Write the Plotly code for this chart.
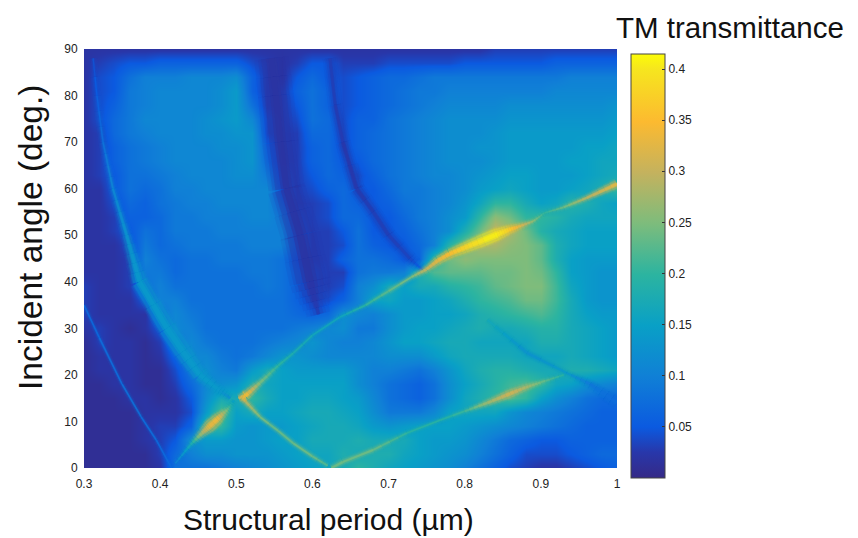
import math
import plotly.graph_objects as go
from plotly.colors import sample_colorscale

periods = [round(0.30 + 0.02 * i, 2) for i in range(36)]
angles = list(range(90, -1, -3))

# background transmittance in hundredths, rows from 90 deg down to 0 deg
t90 = [2,2,2,2,2,2, 2,2,2,2,2,2, 2,2,2,2,2,2, 2,2,2,2,2,2, 2,2,2,3,3,3, 3,3,3,3,3,3]
t87 = [2,3,4,5,5,6, 6,6,6,6,6,4, 3,2,3,5,5,3, 3,3,4,4,4,4, 4,5,5,5,5,5, 5,6,6,6,6,6]
t84 = [2,4,5,8,10,10, 10,11,11,11,12,6, 3,2,5,7,5,4, 5,6,7,7,8,9, 9,9,9,9,9,9, 9,9,10,10,10,10]
t81 = [2,4,5,9,10,11, 11,11,11,12,14,6, 3,3,6,8,6,4, 5,6,7,8,9,9, 10,10,10,10,10,10, 10,11,11,11,11,11]
t78 = [2,4,6,9,10,11, 11,11,11,12,14,8, 3,3,5,8,6,4, 5,6,7,8,9,10, 11,11,11,11,12,12, 12,12,12,12,12,13]
t75 = [2,4,7,9,11,11, 11,11,12,13,14,11, 4,3,4,8,7,4, 6,6,8,9,10,11, 12,12,12,12,13,13, 13,13,13,13,13,14]
t72 = [2,3,7,9,10,11, 11,11,12,12,13,13, 4,3,3,7,7,4, 6,7,8,9,10,11, 12,12,12,13,14,14, 14,14,14,14,14,15]
t69 = [2,3,6,8,9,10, 11,11,11,12,12,13, 6,3,3,6,7,4, 6,7,8,9,10,11, 12,12,13,13,14,14, 14,14,14,15,15,16]
t66 = [2,3,6,8,9,10, 11,11,11,11,12,13, 7,3,3,6,7,5, 5,7,8,9,10,11, 12,12,12,13,14,14, 14,14,15,15,16,16]
t63 = [2,3,5,8,8,9, 10,11,11,11,12,12, 9,4,3,5,7,6, 4,6,8,9,10,11, 11,12,13,14,15,15, 14,14,14,15,16,17]
t60 = [2,2,5,8,7,8, 10,10,11,11,11,11, 11,5,3,4,6,7, 5,5,7,9,9,10, 11,12,14,15,16,15, 14,14,15,16,18,20]
t57 = [2,2,4,7,6,8, 9,10,10,11,11,11, 11,7,3,3,4,7, 6,5,6,8,9,10, 11,13,16,20,20,17, 15,16,19,18,16,15]
t54 = [2,2,3,6,6,7, 9,9,10,10,10,11, 11,9,4,3,4,7, 7,5,5,7,9,10, 12,14,20,26,24,20, 20,19,17,16,16,16]
t51 = [2,2,3,5,8,7, 9,9,9,10,10,10, 10,10,5,3,3,5, 8,5,5,6,8,10, 12,18,24,30,28,24, 19,17,16,15,15,15]
t48 = [2,2,2,4,9,7, 8,9,9,9,9,10, 10,10,6,3,3,4, 8,6,5,5,7,10, 19,25,28,28,26,25, 23,18,16,15,15,15]
t45 = [2,2,2,3,10,8, 7,8,8,9,9,9, 9,8,5,3,3,6, 8,8,7,5,6,20, 24,26,25,25,25,25, 23,18,15,14,14,14]
t42 = [2,2,2,3,9,9, 7,8,8,8,8,9, 9,8,6,4,3,3, 8,9,9,10,18,22, 23,23,23,24,24,25, 24,20,15,14,13,13]
t39 = [3,2,2,3,8,10, 8,8,8,8,8,8, 9,8,6,4,3,4, 10,12,17,15,17,17, 19,20,21,23,24,25, 25,21,16,14,13,13]
t36 = [3,2,2,2,5,10, 10,8,8,8,8,8, 8,8,6,4,4,6, 10,15,16,14,14,15, 16,18,20,21,22,24, 24,21,17,14,13,13]
t33 = [3,2,2,2,2,8, 11,9,8,8,8,8, 8,8,7,6,7,12, 11,10,12,14,14,15, 15,16,18,19,20,21, 22,20,17,15,14,14]
t30 = [2,3,2,1,2,5, 11,10,8,8,8,8, 8,8,9,10,11,12, 9,9,12,14,15,15, 16,17,18,17,17,18, 19,19,17,16,15,14]
t27 = [1,3,2,2,1,3, 8,11,9,8,8,8, 9,10,11,13,11,10, 10,11,13,15,15,16, 17,17,16,16,16,16, 18,18,17,16,15,14]
t24 = [1,2,2,2,1,2, 6,11,11,9,8,9, 11,13,13,12,11,11, 11,11,12,12,12,14, 16,17,17,17,17,16, 16,16,17,16,15,14]
t21 = [1,2,2,2,1,1, 4,9,12,10,9,14, 17,15,14,14,14,14, 12,10,10,9,8,10, 13,16,18,19,19,18, 17,17,18,18,17,16]
t18 = [1,1,2,2,1,1, 3,7,11,12,13,18, 16,15,15,15,15,15, 12,10,8,7,6,8, 12,15,17,19,21,22, 20,16,15,12,11,10]
t15 = [1,1,1,2,2,1, 2,5,12,17,17,20, 17,15,15,16,16,15, 14,11,8,7,6,8, 12,16,18,20,22,20, 15,12,10,8,7,7]
t12 = [1,1,1,1,2,2, 2,4,14,22,15,17, 15,15,16,17,17,16, 15,12,9,9,9,11, 15,16,16,16,13,11, 10,9,8,7,6,6]
t09 = [1,1,1,1,2,3, 3,6,20,20,14,13, 14,14,15,16,17,17, 16,14,13,14,15,15, 15,14,13,12,11,10, 9,8,7,6,6,6]
t06 = [1,1,1,1,2,3, 5,12,14,14,13,13, 14,15,15,17,17,17, 18,17,17,17,15,14, 14,13,11,9,7,6, 5,5,6,6,6,6]
t03 = [1,1,1,1,1,3, 7,10,12,12,13,13, 13,14,15,16,16,18, 17,18,18,16,15,14, 13,12,10,8,6,4, 4,4,5,6,7,7]
t00 = [1,1,1,1,1,2, 8,8,8,9,10,11, 12,13,14,15,16,17, 20,18,16,15,14,13, 12,10,8,6,4,3, 2,2,3,4,5,6]

rows = [t90,t87,t84,t81,t78,t75,t72,t69,t66,t63,t60,t57,t54,t51,t48,t45,
        t42,t39,t36,t33,t30,t27,t24,t21,t18,t15,t12,t09,t06,t03,t00]
z = [[v / 100 for v in r] for r in rows[::-1]]
y = angles[::-1]

# thin features: period, angle, transmittance, width in px
band2_p = [.546,.552,.558,.566,.584,.597,.608]
band2_a = [88,80,70,60,50,40,33]
band2_t = [.02,.02,.02,.02,.02,.02,.03]
band2_w = [16,18,18,19,22,24,4]

band3_p = [.623,.63,.64,.658,.68,.70,.728,.745]
band3_a = [88,78,70,60,55,50,45,42.5]
band3_t = [.03,.03,.025,.025,.03,.03,.035,.06]
band3_w = [5,6,6,8,7,7,5,2]

upper_p = [.312,.317,.325,.338,.356,.373,.409,.43,.452,.475,.492]
upper_a = [88,80,70,60,50,40,30,25,20,17,15]
upper_t = [.04,.055,.08,.11,.13,.14,.14,.14,.14,.14,.12]
upper_w = [1,2,2,3,6,12,15,15,11,6,2]

thin_p = [.30,.32,.35,.375,.395,.415]
thin_a = [35,28,18,11,6,0]
thin_t = [.07,.07,.08,.08,.07,.07]
thin_w = [1.5,1.5,1.5,1.5,1.5,1.5]

rise1_p = [.42,.44,.455,.465,.475,.488,.497]
rise1_a = [1,5,7.5,9,10.5,12.5,14.5]
rise1_t = [.10,.17,.28,.33,.34,.24,.14]
rise1_w = [1,3,7,11,10,4,1]

rise2_p = [.503,.512,.531,.555,.575,.60,.636,.67,.70,.73,.75,.765,.78,.795,.81,.825,.84,.855,.87,.89,.905,.93,.96,1.0]
rise2_a = [15,15.5,18.3,22,24.7,28.5,32.4,35,38,41,42.7,44.6,46,47,48,49,50,51,51.8,53,54.8,56,58,61]
rise2_t = [.30,.35,.25,.20,.18,.17,.16,.20,.23,.25,.30,.33,.35,.37,.39,.40,.41,.38,.33,.26,.20,.24,.29,.33]
rise2_w = [4,8,5,3,2.5,2,2,2.5,3,3,5,7,8,9,10,11,11,8,5,2.5,1,2.5,4,7]

fall_p = [.508,.531,.555,.575,.60,.62]
fall_a = [15,11,8,5.3,2.5,.5]
fall_t = [.30,.25,.23,.24,.24,.22]
fall_w = [5,3,3,3,3,2]

low_p = [.625,.64,.68,.724,.768,.80,.83,.86,.88,.90,.93]
low_a = [0,1.3,3.9,7.5,10.3,12.2,14,16,17.3,18.4,20]
low_t = [.24,.24,.24,.20,.19,.21,.27,.31,.28,.24,.19]
low_w = [4,4,3,2,2,2.5,5,7,5,3,1]

gap_p = [.83,.882,.934,.965,1.0]
gap_a = [31.8,24.7,20.4,18,14]
gap_t = [.17,.125,.14,.09,.07]
gap_w = [2,4,2,5,9]

parula = [
    [0.00, "rgb(53,42,135)"], [0.06, "rgb(40,55,170)"], [0.12, "rgb(11,90,224)"],
    [0.24, "rgb(16,128,214)"], [0.36, "rgb(9,160,198)"], [0.48, "rgb(44,180,160)"],
    [0.60, "rgb(125,188,124)"], [0.72, "rgb(196,178,94)"], [0.84, "rgb(252,186,48)"],
    [0.965, "rgb(246,230,30)"], [1.00, "rgb(252,252,8)"],
]
ZMAX = 0.4147
FONT = "Liberation Sans, Arial, sans-serif"
PAGE_PAD = 8  # the page body keeps an 8 px margin round the figure
W, H = 858 - PAGE_PAD, 538 - PAGE_PAD
L, R, T, B = 84 - PAGE_PAD, 617 - PAGE_PAD, 49 - PAGE_PAD, 468 - PAGE_PAD
PW, PH = R - L, B - T

def paper_x(px):
    return (px - PAGE_PAD - L) / PW

def paper_y(py):
    return (B - (py - PAGE_PAD)) / PH

fig = go.Figure(go.Heatmap(
    x=periods, y=y, z=z, zsmooth="best", zmin=0, zmax=ZMAX, colorscale=parula, hoverinfo="skip",
    colorbar=dict(
        x=paper_x(631), xanchor="left", xpad=0, ypad=0, thickness=34, thicknessmode="pixels",
        lenmode="pixels", len=424, y=paper_y(478), yanchor="bottom",
        tickvals=[0.05, 0.1, 0.15, 0.2, 0.25, 0.3, 0.35, 0.4],
        ticktext=["0.05", "0.1", "0.15", "0.2", "0.25", "0.3", "0.35", "0.4"],
        ticks="inside", ticklen=3, tickcolor="#333", tickfont=dict(family=FONT, size=12, color="#222"),
        outlinecolor="#444", outlinewidth=1,
    ),
))

LAYERS = ((9, 0, .10), (5, 0, .16), (2, 0, .30), (0, .6, .55), (0, .3, .8))

def add_feature(px, ay, tv, wd, spread=1.0):
    """Draw a feature as tapered, soft-edged strokes; each stroke is shaded along its length."""
    for i in range(len(px) - 1):
        steps = max(1, min(5, math.ceil(abs(tv[i + 1] - tv[i]) / .012 + abs(wd[i + 1] - wd[i]) / 1.5)))
        for s in range(steps):
            f0, f1 = s / steps, (s + 1) / steps
            fm = (f0 + f1) / 2
            val = (tv[i] + (tv[i + 1] - tv[i]) * fm) / ZMAX
            w = wd[i] + (wd[i + 1] - wd[i]) * fm
            sx = [px[i] + (px[i + 1] - px[i]) * f for f in (f0, f1)]
            sy = [ay[i] + (ay[i + 1] - ay[i]) * f for f in (f0, f1)]
            rgb = sample_colorscale(parula, [val], colortype="rgb")[0]
            rgba = rgb.replace("rgb(", "rgba(")[:-1]
            for extra, shrink, alpha in LAYERS:
                width = (w + extra * spread) if not shrink else max(w * shrink, .6) + 1 - shrink
                fig.add_trace(go.Scatter(
                    x=sx, y=sy, mode="lines", hoverinfo="skip", showlegend=False,
                    line=dict(color=f"{rgba},{alpha})", width=width),
                ))

add_feature(band2_p, band2_a, band2_t, band2_w, spread=2.0)
add_feature(band3_p, band3_a, band3_t, band3_w)
add_feature(upper_p, upper_a, upper_t, upper_w, spread=.8)
add_feature(thin_p, thin_a, thin_t, thin_w, spread=.5)
add_feature(gap_p, gap_a, gap_t, gap_w, spread=.6)
add_feature(fall_p, fall_a, fall_t, fall_w, spread=.6)
add_feature(low_p, low_a, low_t, low_w, spread=.6)
add_feature(rise1_p, rise1_a, rise1_t, rise1_w, spread=.6)
add_feature(rise2_p, rise2_a, rise2_t, rise2_w, spread=.6)

fig.update_layout(
    width=W, height=H, margin=dict(l=L, r=W - R, t=T, b=H - B, autoexpand=False),
    paper_bgcolor="white", plot_bgcolor="white", showlegend=False,
    font=dict(family=FONT, color="#111"),
    xaxis=dict(range=[0.3, 1.0], tickvals=[0.3,0.4,0.5,0.6,0.7,0.8,0.9,1.0],
               ticktext=["0.3","0.4","0.5","0.6","0.7","0.8","0.9","1"], ticks="outside", ticklen=5,
               tickcolor="rgba(0,0,0,0)", showgrid=False, zeroline=False, automargin=False,
               tickfont=dict(size=12, color="#222")),
    yaxis=dict(range=[0, 90], tickvals=list(range(0, 91, 10)), ticks="outside", ticklen=3,
               tickcolor="rgba(0,0,0,0)", showgrid=False, zeroline=False, automargin=False,
               tickfont=dict(size=12, color="#222")),
    annotations=[
        dict(text="TM transmittance", x=paper_x(846), y=paper_y(27), xref="paper", yref="paper",
             xanchor="right", yanchor="middle", showarrow=False, font=dict(size=29.5, color="#111")),
        dict(text="Structural period (µm)", x=paper_x(328), y=paper_y(520), xref="paper", yref="paper",
             xanchor="center", yanchor="middle", showarrow=False, font=dict(size=30, color="#111")),
        dict(text="Incident angle (deg.)", x=paper_x(30), y=paper_y(238), xref="paper", yref="paper",
             xanchor="center", yanchor="middle", textangle=-90, showarrow=False,
             font=dict(size=33.5, color="#111")),
    ],
)
fig.write_html("out.html")
